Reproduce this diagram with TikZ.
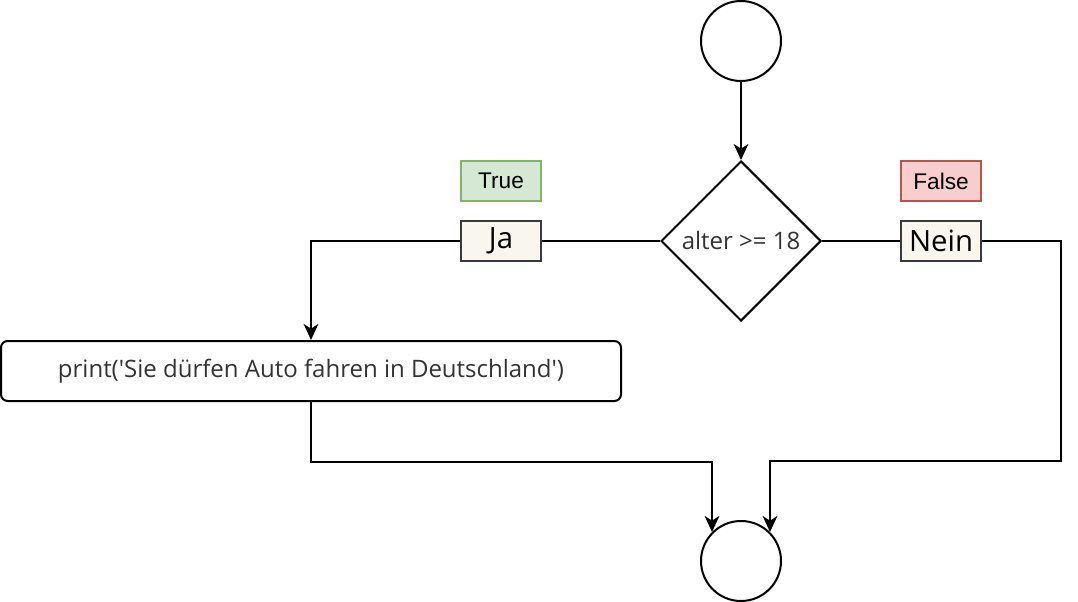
\documentclass[tikz,border=0pt]{standalone}
\usepackage{fontspec}
\setmainfont{Open Sans}
\newfontfamily\arialfont{Liberation Sans}
\usetikzlibrary{shapes.geometric,arrows.meta}
\definecolor{greenfill}{HTML}{D5E8D4}
\definecolor{greenline}{HTML}{82B366}
\definecolor{redfill}{HTML}{F8CECC}
\definecolor{redline}{HTML}{B85450}
\definecolor{notefill}{HTML}{F9F7ED}
\definecolor{noteline}{HTML}{36393D}
\definecolor{textgrey}{HTML}{333333}
\tikzset{
  conn/.style={line width=1.5pt},
  flow/.style={conn, -{Stealth[length=12pt,width=11pt,inset=3.5pt]}},
  terminal/.style={circle, draw, line width=1.5pt, minimum size=60pt, inner sep=0pt},
  decision/.style={diamond, draw, line width=1.5pt, minimum width=120pt, minimum height=120pt,
    inner sep=0pt, text=textgrey, font=\fontsize{18}{20}\selectfont},
  process/.style={rectangle, rounded corners=5pt, draw, line width=1.5pt, minimum width=465pt,
    minimum height=45pt, text=textgrey, font=\fontsize{18}{20}\selectfont},
  answer/.style={rectangle, draw=noteline, fill=notefill, line width=1.5pt, minimum width=60pt,
    minimum height=30pt, inner sep=0pt, font=\fontsize{22}{24}\selectfont},
  truthbox/.style={rectangle, line width=1.5pt, minimum width=60pt, minimum height=30pt,
    inner sep=0pt, font=\arialfont\fontsize{17}{19}\selectfont}
}
\begin{document}
\begin{tikzpicture}[x=0.75pt, y=-0.75pt]
\useasboundingbox (0,0) rectangle (1078,602);
\node[terminal] (start) at (741,41) {};
\node[decision] (dec) at (741,241) {alter >= 18};
\node[truthbox, draw=greenline, fill=greenfill] (true) at (501,181) {True};
\node[answer] (ja) at (501,241) {Ja};
\node[truthbox, draw=redline, fill=redfill] (false) at (941,181) {False};
\node[answer] (nein) at (941,241) {Nein};
\node[process] (proc) at (311,371)
  {print(\textquotesingle Sie dürfen Auto fahren in Deutschland\textquotesingle)};
\node[terminal] (stop) at (741,561) {};
\coordinate (corner) at (1061,461);
\draw[flow] (start) -- (dec);
\draw[conn] (dec.west) -- (ja.east);
\draw[flow] (ja.west) -| (proc.north);
\draw[conn] (dec.east) -- (nein.west);
\draw[flow] (nein.east) -| (corner) -| (stop.north east);
\draw[flow] (proc.south) -- ++(0,60) -| (stop.north west);
\end{tikzpicture}
\end{document}
